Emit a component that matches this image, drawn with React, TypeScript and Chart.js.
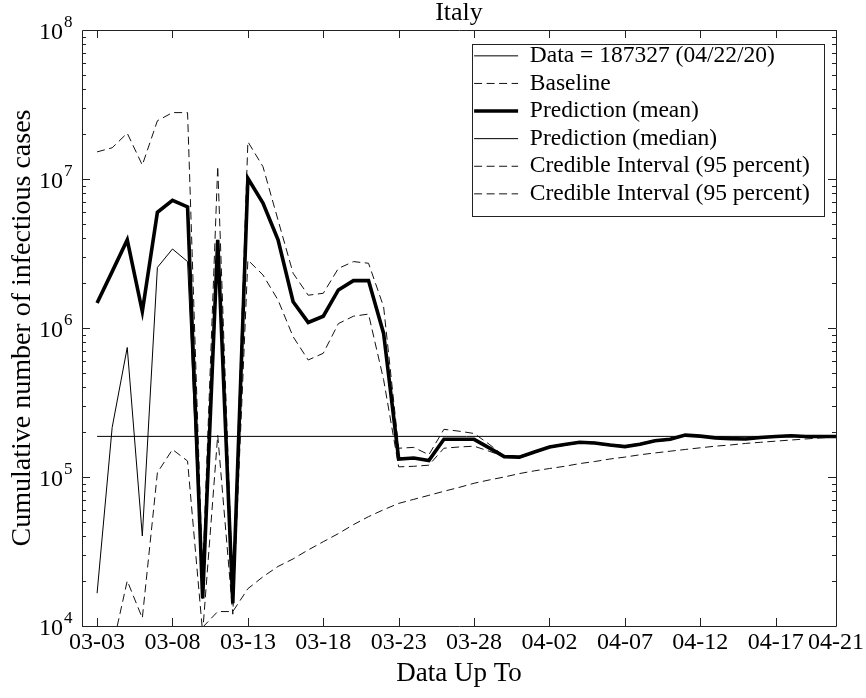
import React, { useEffect, useRef } from "react";
import { Chart, registerables } from "chart.js";

Chart.register(...registerables);

const categories = [
  "03-03","03-04","03-05","03-06","03-07","03-08","03-09","03-10","03-11","03-12",
  "03-13","03-14","03-15","03-16","03-17","03-18","03-19","03-20","03-21","03-22",
  "03-23","03-24","03-25","03-26","03-27","03-28","03-29","03-30","03-31","04-01",
  "04-02","04-03","04-04","04-05","04-06","04-07","04-08","04-09","04-10","04-11",
  "04-12","04-13","04-14","04-15","04-16","04-17","04-18","04-19","04-20","04-21",
];

const xTickDays = [0, 5, 10, 15, 20, 25, 30, 35, 40, 45, 49];
const yDecades = [1e4, 1e5, 1e6, 1e7, 1e8];
const yTickBase = "10";
const yTickExponents = ["4", "5", "6", "7", "8"];

const dataValue = 187327;

const baseline = [
  null, null, null, null, null, null, null, 9800, 12500, 12500,
  17800, 21400, 25100, 28200, 32400, 36800, 41700, 47900, 54200, 60300,
  66500, 70800, 75300, 80200, 85100, 90800, 95500, 100000, 105400, 110000,
  114000, 118000, 123000, 127000, 132000, 136000, 141000, 145000, 149000, 153000,
  157000, 161000, 164000, 168000, 171000, 174000, 177000, 180000, 183000, 185000,
];

const predMean = [
  1.47e6, 2.39e6, 3.9e6, 1.29e6, 5.98e6, 7.2e6, 6.5e6, 1.53e4, 3.9e6, 1.42e4,
  1.01e7, 6.9e6, 3.9e6, 1.5e6, 1.09e6, 1.2e6, 1.8e6, 2.08e6, 2.08e6, 9.2e5,
  1.32e5, 1.34e5, 1.29e5, 1.79e5, 1.79e5, 1.79e5, 1.57e5, 1.37e5, 1.36e5, 1.47e5,
  1.59e5, 1.65e5, 1.71e5, 1.69e5, 1.64e5, 1.6e5, 1.66e5, 1.75e5, 1.79e5, 1.91e5,
  1.88e5, 1.83e5, 1.81e5, 1.8e5, 1.84e5, 1.87e5, 1.89e5, 1.87e5, 1.87e5, 1.87e5,
];

const predMedian = [
  1.66e4, 2.15e5, 7.4e5, 4.02e4, 2.55e6, 3.39e6, 2.79e6, 1.53e4, 3.9e6, 1.42e4,
  1.01e7, 6.9e6, 3.9e6, 1.5e6, 1.09e6, 1.2e6, 1.8e6, 2.08e6, 2.08e6, 9.2e5,
  1.32e5, 1.34e5, 1.29e5, 1.79e5, 1.79e5, 1.79e5, 1.57e5, 1.37e5, 1.36e5, 1.47e5,
  1.59e5, 1.65e5, 1.71e5, 1.69e5, 1.64e5, 1.6e5, 1.66e5, 1.75e5, 1.79e5, 1.91e5,
  1.88e5, 1.83e5, 1.81e5, 1.8e5, 1.84e5, 1.87e5, 1.89e5, 1.87e5, 1.87e5, 1.87e5,
];

const ciUpper = [
  1.52e7, 1.62e7, 2.03e7, 1.24e7, 2.46e7, 2.79e7, 2.79e7, 2.2e4, 1.22e7, 1.7e4,
  1.78e7, 1.21e7, 5.3e6, 2.33e6, 1.66e6, 1.71e6, 2.51e6, 2.79e6, 2.72e6, 1.39e6,
  1.56e5, 1.58e5, 1.41e5, 2.09e5, 2.03e5, 1.96e5, 1.66e5, 1.38e5, 1.38e5, 1.49e5,
  1.61e5, 1.67e5, 1.73e5, 1.71e5, 1.66e5, 1.62e5, 1.68e5, 1.77e5, 1.81e5, 1.93e5,
  1.9e5, 1.85e5, 1.83e5, 1.82e5, 1.86e5, 1.89e5, 1.91e5, 1.89e5, 1.89e5, 1.88e5,
];

const ciLower = [
  5.0e3, 7.0e3, 2.01e4, 1.13e4, 1.07e5, 1.53e5, 1.28e5, 9.0e3, 1.91e5, 1.2e4,
  2.86e6, 2.27e6, 1.54e6, 8.74e5, 6.1e5, 6.77e5, 1.07e6, 1.2e6, 1.24e6, 4.5e5,
  1.17e5, 1.18e5, 1.2e5, 1.56e5, 1.59e5, 1.61e5, 1.49e5, 1.37e5, 1.34e5, 1.45e5,
  1.57e5, 1.63e5, 1.69e5, 1.67e5, 1.62e5, 1.58e5, 1.64e5, 1.73e5, 1.77e5, 1.89e5,
  1.86e5, 1.81e5, 1.79e5, 1.78e5, 1.82e5, 1.85e5, 1.87e5, 1.85e5, 1.85e5, 1.86e5,
];

const FONT = "'Liberation Serif', 'Times New Roman', serif";

const toPoints = (arr: (number | null)[]) => arr.map((v, i) => ({ x: i, y: v }));

const framePlugin = {
  id: "matlabFrame",
  afterDatasetsDraw(chart: any) {
    const { ctx, chartArea } = chart;
    const { left, right, top, bottom } = chartArea;
    const xs = chart.scales.x;
    const ys = chart.scales.y;
    ctx.save();
    ctx.strokeStyle = "#222";
    ctx.lineWidth = 1;
    ctx.setLineDash([]);
    ctx.beginPath();
    ctx.rect(Math.round(left) + 0.5, Math.round(top) + 0.5, Math.round(right - left), Math.round(bottom - top));
    ctx.stroke();
    ctx.beginPath();
    xTickDays.forEach((d) => {
      const px = Math.round(xs.getPixelForValue(d)) + 0.5;
      ctx.moveTo(px, bottom);
      ctx.lineTo(px, bottom - 8);
      ctx.moveTo(px, top);
      ctx.lineTo(px, top + 8);
    });
    for (let e = 4; e < 8; e++) {
      for (let m = 1; m <= 9; m++) {
        const v = m * Math.pow(10, e);
        const py = Math.round(ys.getPixelForValue(v)) + 0.5;
        const len = m === 1 ? 8 : 4;
        ctx.moveTo(left, py);
        ctx.lineTo(left + len, py);
        ctx.moveTo(right, py);
        ctx.lineTo(right - len, py);
      }
    }
    ctx.stroke();

    // y tick labels: "10" with a raised exponent
    ctx.fillStyle = "#000";
    yDecades.forEach((v, i) => {
      const py = ys.getPixelForValue(v);
      const baseRight = 63;
      ctx.font = `24px ${FONT}`;
      ctx.textAlign = "right";
      ctx.textBaseline = "alphabetic";
      ctx.fillText(yTickBase, baseRight, py + 9);
      ctx.font = `17px ${FONT}`;
      ctx.textAlign = "left";
      ctx.fillText(yTickExponents[i], baseRight + 1, py - 3);
    });
    ctx.restore();
  },
};

const legendPlace = {
  id: "legendPlace",
  afterLayout(chart: any) {
    const lg = chart.legend;
    if (!lg) return;
    lg.left = 470;
    lg.top = 40;
    lg.right = chart.chartArea.right;
    lg.bottom = chart.chartArea.bottom;
  },
  afterDraw(chart: any) {
    const { ctx } = chart;
    ctx.save();
    ctx.strokeStyle = "#222";
    ctx.lineWidth = 1;
    ctx.setLineDash([]);
    ctx.strokeRect(472.5, 44.5, 352, 172);
    ctx.restore();
  },
};

export default function App() {
  const ref = useRef<HTMLCanvasElement | null>(null);
  useEffect(() => {
    if (!ref.current) return;
    const dash = [8, 4.5];
    const chart = new Chart(ref.current, {
      type: "line",
      data: {
        datasets: [
          {
            label: "Data = 187327 (04/22/20)",
            data: [
              { x: 0, y: dataValue },
              { x: categories.length - 1, y: dataValue },
            ],
            borderColor: "#000",
            borderWidth: 1,
          },
          {
            label: "Baseline",
            data: toPoints(baseline),
            borderColor: "#111",
            borderWidth: 1,
            borderDash: dash,
          },
          {
            label: "Prediction (mean)",
            data: toPoints(predMean),
            borderColor: "#000",
            borderWidth: 3.6,
          },
          {
            label: "Prediction (median)",
            data: toPoints(predMedian),
            borderColor: "#000",
            borderWidth: 1,
          },
          {
            label: "Credible Interval (95 percent)",
            data: toPoints(ciUpper),
            borderColor: "#111",
            borderWidth: 1,
            borderDash: dash,
          },
          {
            label: "Credible Interval (95 percent)",
            data: toPoints(ciLower),
            borderColor: "#111",
            borderWidth: 1,
            borderDash: dash,
          },
        ],
      },
      options: {
        animation: false,
        responsive: false,
        maintainAspectRatio: false,
        devicePixelRatio: 1,
        layout: { padding: { top: 0, right: 27.5, left: 0, bottom: 0 } },
        elements: {
          point: { radius: 0, hoverRadius: 0 },
          line: { tension: 0, fill: false, borderJoinStyle: "miter", borderCapStyle: "butt" },
        },
        datasets: { line: { clip: 0, spanGaps: false } } as any,
        scales: {
          x: {
            type: "linear",
            min: -1,
            max: categories.length - 1,
            afterBuildTicks: (scale: any) => {
              scale.ticks = xTickDays.map((d) => ({ value: d }));
            },
            afterFit: (scale: any) => {
              scale.height = 72;
            },
            grid: { display: false, drawTicks: false },
            border: { display: false },
            ticks: {
              autoSkip: false,
              maxRotation: 0,
              minRotation: 0,
              padding: 2,
              color: "#000",
              font: { family: FONT, size: 24 },
              callback: (v: any) => categories[Number(v)] ?? "",
            },
            title: {
              display: true,
              text: "Data Up To",
              color: "#000",
              font: { family: FONT, size: 27 },
              padding: { top: 0, bottom: 8 },
            },
          },
          y: {
            type: "logarithmic",
            min: 1e4,
            max: 1e8,
            afterBuildTicks: (scale: any) => {
              scale.ticks = yDecades.map((v) => ({ value: v, major: true }));
            },
            afterFit: (scale: any) => {
              scale.width = 82;
            },
            grid: { display: false, drawTicks: false },
            border: { display: false },
            ticks: { display: false },
            title: {
              display: true,
              text: "Cumulative number of infectious cases",
              color: "#000",
              font: { family: FONT, size: 28 },
              padding: { top: 5.5, bottom: 0 },
            },
          },
        },
        plugins: {
          title: {
            display: true,
            text: "Italy",
            color: "#000",
            fullSize: false,
            font: { family: FONT, size: 26, weight: "normal", lineHeight: 1.0 },
            padding: { top: 0, bottom: 4 },
          },
          legend: {
            display: true,
            position: "chartArea",
            align: "start",
            labels: {
              usePointStyle: true,
              pointStyle: "line",
              pointStyleWidth: 44,
              boxHeight: 23.5,
              padding: 4.1,
              color: "#000",
              font: { family: FONT, size: 23.5 },
              generateLabels: (chart: any) => {
                const base = (Chart.defaults.plugins.legend.labels as any).generateLabels(chart);
                return base.map((it: any) => {
                  const ds = chart.data.datasets[it.datasetIndex];
                  return {
                    ...it,
                    lineDash: ds.borderDash || [],
                    lineWidth: ds.borderWidth,
                    strokeStyle: ds.borderColor,
                    fillStyle: ds.borderColor,
                    fontColor: "#000",
                  };
                });
              },
            },
          },
          tooltip: { enabled: false },
        },
      },
      plugins: [framePlugin, legendPlace],
    } as any);
    return () => chart.destroy();
  }, []);

  return (
    <div style={{ position: "fixed", left: 0, top: 0, width: 866, height: 698, background: "#fff" }}>
      <canvas ref={ref} width={866} height={698} style={{ width: 866, height: 698, display: "block" }} />
    </div>
  );
}
